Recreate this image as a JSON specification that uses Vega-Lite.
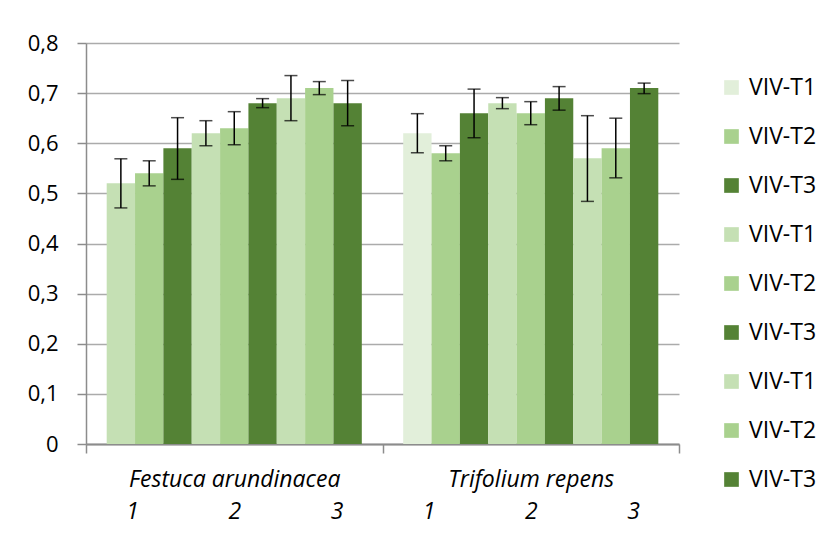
{
  "$schema": "https://vega.github.io/schema/vega-lite/v6.json",
  "width": 593,
  "height": 401,
  "autosize": {"type": "none"},
  "padding": {"left": 86, "top": 43, "right": 150, "bottom": 92},
  "background": "white",
  "config": {
    "view": {"stroke": null},
    "font": "Open Sans",
    "axis": {"labelFont": "Open Sans", "labelColor": "#000000"},
    "legend": {"labelFont": "Open Sans", "labelColor": "#000000"}
  },
  "data": {
    "values": [
      {"species": "Festuca arundinacea", "series": "1 VIV-T1", "mean": 0.52, "low": 0.471, "high": 0.569},
      {"species": "Festuca arundinacea", "series": "1 VIV-T2", "mean": 0.54, "low": 0.515, "high": 0.565},
      {"species": "Festuca arundinacea", "series": "1 VIV-T3", "mean": 0.59, "low": 0.528, "high": 0.651},
      {"species": "Festuca arundinacea", "series": "2 VIV-T1", "mean": 0.62, "low": 0.595, "high": 0.645},
      {"species": "Festuca arundinacea", "series": "2 VIV-T2", "mean": 0.63, "low": 0.597, "high": 0.663},
      {"species": "Festuca arundinacea", "series": "2 VIV-T3", "mean": 0.68, "low": 0.671, "high": 0.689},
      {"species": "Festuca arundinacea", "series": "3 VIV-T1", "mean": 0.69, "low": 0.645, "high": 0.735},
      {"species": "Festuca arundinacea", "series": "3 VIV-T2", "mean": 0.71, "low": 0.697, "high": 0.723},
      {"species": "Festuca arundinacea", "series": "3 VIV-T3", "mean": 0.68, "low": 0.635, "high": 0.725},
      {"species": "Trifolium repens", "series": "1 VIV-T1", "mean": 0.62, "low": 0.581, "high": 0.659},
      {"species": "Trifolium repens", "series": "1 VIV-T2", "mean": 0.58, "low": 0.565, "high": 0.595},
      {"species": "Trifolium repens", "series": "1 VIV-T3", "mean": 0.66, "low": 0.611, "high": 0.708},
      {"species": "Trifolium repens", "series": "2 VIV-T1", "mean": 0.68, "low": 0.669, "high": 0.691},
      {"species": "Trifolium repens", "series": "2 VIV-T2", "mean": 0.66, "low": 0.637, "high": 0.683},
      {"species": "Trifolium repens", "series": "2 VIV-T3", "mean": 0.69, "low": 0.666, "high": 0.713},
      {"species": "Trifolium repens", "series": "3 VIV-T1", "mean": 0.57, "low": 0.484, "high": 0.655},
      {"species": "Trifolium repens", "series": "3 VIV-T2", "mean": 0.59, "low": 0.531, "high": 0.65},
      {"species": "Trifolium repens", "series": "3 VIV-T3", "mean": 0.71, "low": 0.699, "high": 0.72}
    ]
  },
  "encoding": {
    "x": {
      "field": "species",
      "type": "nominal",
      "title": null,
      "scale": {"paddingInner": 0, "paddingOuter": 0},
      "axis": {
        "labelAngle": 0,
        "labelFontSize": 23,
        "labelFontStyle": "italic",
        "labelLimit": 0,
        "labelExpr": "datum.label ? [datum.label, '1\u00a0\u00a0\u00a0\u00a0\u00a0\u00a0\u00a0\u00a0\u00a0\u00a0\u00a0\u00a0\u00a0\u00a0\u00a02\u00a0\u00a0\u00a0\u00a0\u00a0\u00a0\u00a0\u00a0\u00a0\u00a0\u00a0\u00a0\u00a0\u00a0\u00a03'] : ''",
        "labelLineHeight": 32,
        "labelPadding": 15,
        "tickBand": "extent",
        "tickSize": 9,
        "tickColor": "#8C8C8C",
        "tickWidth": 1.5,
        "domainColor": "#8C8C8C",
        "domainWidth": 2,
        "grid": false
      }
    },
    "xOffset": {
      "field": "series",
      "type": "nominal",
      "sort": "ascending",
      "scale": {"paddingInner": 0, "paddingOuter": 0.73}
    }
  },
  "layer": [
    {
      "mark": {"type": "bar"},
      "encoding": {
        "y": {
          "field": "mean",
          "type": "quantitative",
          "title": null,
          "scale": {"domain": [0, 0.8], "nice": false},
          "axis": {
            "values": [0, 0.1, 0.2, 0.3, 0.4, 0.5, 0.6, 0.7, 0.8],
            "labelExpr": "replace(format(datum.value, '.1~f'), '.', ',')",
            "labelFontSize": 22,
            "labelPadding": 19,
            "tickSize": 9,
            "tickColor": "#8C8C8C",
            "tickWidth": 1.5,
            "domainColor": "#8C8C8C",
            "domainWidth": 1.5,
            "gridColor": "#ABABAB",
            "gridWidth": 1.5
          }
        },
        "color": {
          "field": "series",
          "type": "nominal",
          "title": null,
          "condition": {
            "test": "datum.species === 'Festuca arundinacea' && datum.series === '1 VIV-T1'",
            "value": "#C5E0B4"
          },
          "scale": {
            "domain": ["1 VIV-T1", "1 VIV-T2", "1 VIV-T3", "2 VIV-T1", "2 VIV-T2", "2 VIV-T3", "3 VIV-T1", "3 VIV-T2", "3 VIV-T3"],
            "range": ["#E2EFDA", "#A9D18E", "#548235", "#C5E0B4", "#A9D18E", "#548235", "#C5E0B4", "#A9D18E", "#548235"]
          },
          "legend": {
            "orient": "none",
            "legendX": 634,
            "legendY": 33,
            "symbolType": "square",
            "symbolSize": 215,
            "symbolStrokeWidth": 0,
            "labelFontSize": 23,
            "labelOffset": 6,
            "rowPadding": 25,
            "labelExpr": "substring(datum.label, 2)"
          }
        }
      }
    },
    {
      "mark": {"type": "rule", "color": "#000000", "strokeWidth": 1.5},
      "encoding": {
        "y": {"field": "low", "type": "quantitative"},
        "y2": {"field": "high"}
      }
    },
    {
      "mark": {"type": "tick", "color": "#000000", "thickness": 1.5, "size": 13, "orient": "horizontal"},
      "encoding": {"y": {"field": "low", "type": "quantitative"}}
    },
    {
      "mark": {"type": "tick", "color": "#000000", "thickness": 1.5, "size": 13, "orient": "horizontal"},
      "encoding": {"y": {"field": "high", "type": "quantitative"}}
    }
  ]
}
